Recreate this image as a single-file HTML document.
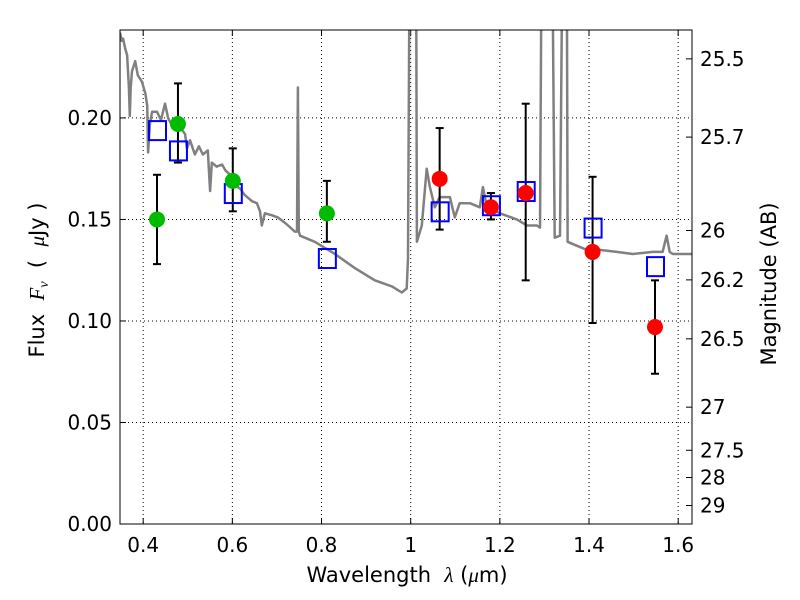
<!DOCTYPE html>
<html><head><meta charset="utf-8"><style>
body{margin:0;background:#fff;}
svg{display:block;font-family:"DejaVu Sans","Liberation Sans",sans-serif;}
text{white-space:pre;}
</style></head><body>
<svg id="chart" width="800" height="600" viewBox="0 0 800 600"></svg>
<script>
const specLam=[0.348,0.352,0.355,0.360,0.364,0.368,0.370,0.372,0.375,0.382,0.388,0.397,0.405,0.409,0.411,0.415,0.420,0.431,0.440,0.449,0.456,0.465,0.478,0.494,0.498,0.505,0.516,0.525,0.534,0.545,0.550,0.554,0.565,0.577,0.585,0.595,0.606,0.618,0.628,0.644,0.655,0.662,0.666,0.673,0.690,0.702,0.720,0.740,0.745,0.747,0.749,0.752,0.785,0.830,0.875,0.920,0.958,0.980,0.991,0.994,0.998,1.012,1.014,1.025,1.036,1.043,1.054,1.065,1.088,1.099,1.110,1.133,1.155,1.162,1.171,1.200,1.238,1.261,1.283,1.290,1.294,1.317,1.323,1.335,1.341,1.350,1.352,1.373,1.395,1.424,1.462,1.498,1.543,1.565,1.574,1.581,1.588,1.631];
const specFlux=[0.242,0.238,0.239,0.234,0.231,0.215,0.201,0.215,0.223,0.228,0.221,0.218,0.212,0.206,0.183,0.197,0.203,0.203,0.199,0.207,0.200,0.196,0.197,0.192,0.185,0.189,0.182,0.186,0.182,0.184,0.164,0.178,0.176,0.177,0.174,0.172,0.167,0.165,0.162,0.159,0.158,0.154,0.147,0.153,0.152,0.151,0.148,0.144,0.144,0.215,0.144,0.142,0.139,0.133,0.126,0.120,0.117,0.114,0.116,0.131,0.30,0.30,0.139,0.147,0.175,0.166,0.156,0.161,0.161,0.151,0.158,0.158,0.156,0.166,0.156,0.153,0.150,0.147,0.147,0.146,0.30,0.30,0.141,0.142,0.30,0.30,0.139,0.137,0.135,0.135,0.134,0.133,0.134,0.134,0.142,0.134,0.133,0.133];
const photLam=[0.431,0.478,0.601,0.812,1.065,1.180,1.258,1.408,1.548];
const photFlux=[0.150,0.197,0.169,0.153,0.170,0.156,0.163,0.134,0.097];
const photLo=[0.128,0.178,0.154,0.139,0.145,0.150,0.120,0.099,0.074];
const photHi=[0.172,0.217,0.185,0.169,0.195,0.163,0.207,0.171,0.120];
const photColor=['#00bb00','#00bb00','#00bb00','#00bb00','#ff0000','#ff0000','#ff0000','#ff0000','#ff0000'];
const modelFlux=[0.194,0.184,0.163,0.131,0.154,0.157,0.164,0.146,0.127];
const xTicks=[0.4,0.6,0.8,1.0,1.2,1.4,1.6];
const xTickLabels=['0.4','0.6','0.8','1','1.2','1.4','1.6'];
const yTicks=[0.00,0.05,0.10,0.15,0.20];
const yTickLabels=['0.00','0.05','0.10','0.15','0.20'];
const magTicks=[25.5,25.7,26,26.2,26.5,27,27.5,28,29];
const magLabels=['25.5','25.7','26','26.2','26.5','27','27.5','28','29'];

const L=120,R=692,T=30,B=524,X0=0.348,X1=1.631,Y0=0,Y1=0.2433;
const sx=v=>L+(v-X0)/(X1-X0)*(R-L);
const sy=v=>B-(v-Y0)/(Y1-Y0)*(B-T);
const NS='http://www.w3.org/2000/svg';
const svg=document.getElementById('chart');
function mk(tag,attrs,parent){const e=document.createElementNS(NS,tag);for(const k in attrs)e.setAttribute(k,attrs[k]);(parent||svg).appendChild(e);return e;}

const defs=mk('defs',{});
const cp=mk('clipPath',{id:'clip'},defs);
mk('rect',{x:L,y:T,width:R-L,height:B-T},cp);

xTicks.forEach((v,i)=>{
  const g=mk('line',{x1:sx(v),x2:sx(v),y1:T,y2:B,stroke:'#000','stroke-width':1,'stroke-dasharray':'1,3'});
  
  
  mk('line',{x1:sx(v),x2:sx(v),y1:B,y2:B-6,stroke:'#000'});
  mk('line',{x1:sx(v),x2:sx(v),y1:T,y2:T+6,stroke:'#000'});
  const t=mk('text',{x:sx(v),y:B+28,'text-anchor':'middle','font-size':20});
  t.textContent=xTickLabels[i];
  
  
});
yTicks.forEach((v,i)=>{
  const g=mk('line',{x1:L,x2:R,y1:sy(v),y2:sy(v),stroke:'#000','stroke-width':1,'stroke-dasharray':'1,3'});
  
  
  mk('line',{x1:L,x2:L+6,y1:sy(v),y2:sy(v),stroke:'#000'});
  const t=mk('text',{x:L-8,y:sy(v)+7,'text-anchor':'end','font-size':20});
  t.textContent=yTickLabels[i];
  
  
});
magTicks.forEach((m,i)=>{
  const f=Math.pow(10,(23.9-m)/2.5);
  const y=sy(f);
  mk('line',{x1:R-6,x2:R,y1:y,y2:y,stroke:'#000'});
  const t=mk('text',{x:R+8,y:y+7,'font-size':20});
  t.textContent=magLabels[i];
  
  
});

const g=mk('g',{'clip-path':'url(#clip)'});
const pts=specLam.map((l,i)=>sx(l).toFixed(1)+','+sy(specFlux[i]).toFixed(1)).join(' ');
const sp=mk('polyline',{points:pts,fill:'none',stroke:'#808080','stroke-width':2.5,'stroke-linejoin':'round'},g);



photLam.forEach((l,i)=>{
  const x=sx(l);
  const e=mk('g',{stroke:'#000','stroke-width':2},g);
  
  
  mk('line',{x1:x,x2:x,y1:sy(photLo[i]),y2:sy(photHi[i])},e);
  mk('line',{x1:x-4,x2:x+4,y1:sy(photLo[i]),y2:sy(photLo[i])},e);
  mk('line',{x1:x-4,x2:x+4,y1:sy(photHi[i]),y2:sy(photHi[i])},e);
});
photLam.forEach((l,i)=>{
  const s=mk('rect',{x:sx(l)-8,y:sy(modelFlux[i])-9,width:17,height:19,fill:'none',stroke:'#0000ff','stroke-width':2},g);
  
  
});
photLam.forEach((l,i)=>{
  const c=mk('circle',{cx:sx(l),cy:sy(photFlux[i]),r:8,fill:photColor[i]},g);
  
  
});

const fr=mk('rect',{x:L,y:T,width:R-L,height:B-T,fill:'none',stroke:'#000','stroke-width':1});



const xl=mk('text',{x:(L+R)/2+1,y:582,'text-anchor':'middle','font-size':21});
xl.innerHTML='Wavelength  <tspan font-style="italic" font-family="Liberation Serif,serif">λ</tspan> (<tspan font-style="italic" font-family="Liberation Serif,serif">μ</tspan>m)';


const yl=mk('text',{x:0,y:0,'text-anchor':'middle','font-size':21,transform:'translate(44,'+((T+B)/2+3)+') rotate(-90)'});
yl.innerHTML='Flux  <tspan font-style="italic" font-family="Liberation Serif,serif">F</tspan><tspan font-style="italic" font-size="14" dy="4" font-family="Liberation Serif,serif">ν</tspan><tspan dy="-4">  (  </tspan><tspan font-style="italic" font-family="Liberation Serif,serif">μ</tspan>Jy )';


const ml=mk('text',{x:0,y:0,'text-anchor':'middle','font-size':21,transform:'translate(776,'+((T+B)/2+7)+') rotate(-90)'});
ml.textContent='Magnitude (AB)';


</script>
</body></html>
